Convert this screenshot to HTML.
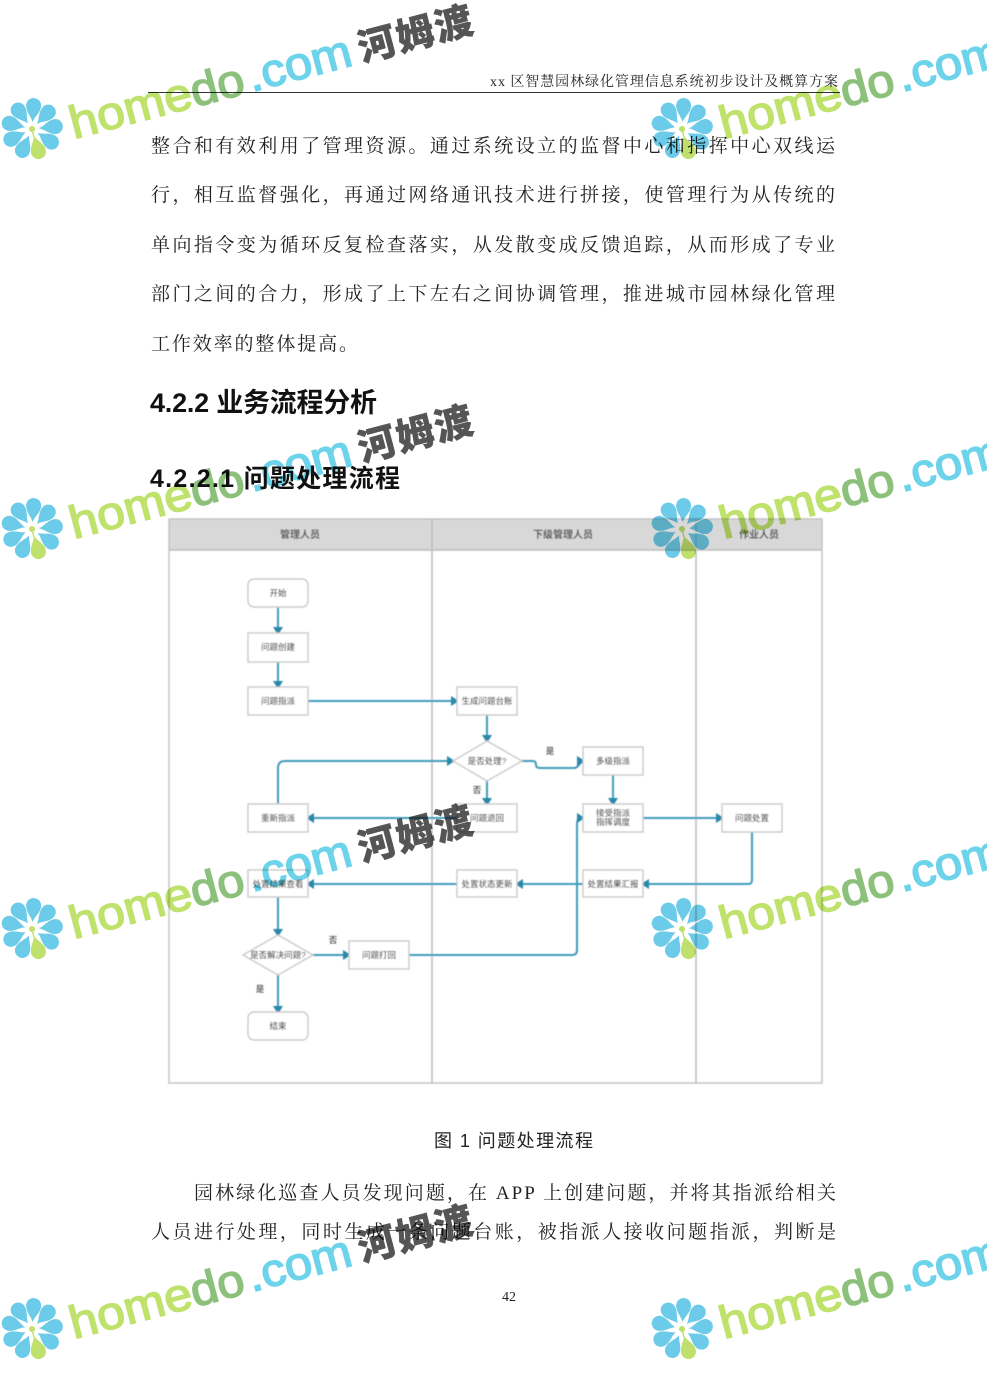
<!DOCTYPE html>
<html lang="zh"><head><meta charset="utf-8"><title>4.2.2 业务流程分析</title>
<style>
html,body{margin:0;padding:0;background:#fff;width:987px;height:1398px;overflow:hidden}
svg{display:block}
.b{font-family:"Liberation Serif","Noto Serif CJK SC",serif;font-size:19px;fill:#222}
.h{font-family:"Liberation Sans","Noto Sans CJK SC",sans-serif;font-weight:700;fill:#111}
.n rect,.n path{fill:#fff;stroke:#c9c9c9;stroke-width:1.4}
.l text{font-family:"Liberation Sans","Noto Sans CJK SC",sans-serif;font-size:8.5px;font-weight:500;fill:#4a4a4a;text-anchor:middle}
.c path{fill:none;stroke:#3f9dbb;stroke-width:2}
.a path{fill:#2b88a8;stroke:none}
.w text{font-family:"Liberation Sans",sans-serif;font-size:46px;stroke-width:1.5}
.w .cn{font-family:"Noto Sans CJK SC",sans-serif;font-weight:900;font-size:38px;fill:#555;stroke:#555;stroke-width:.4}
.wm{mix-blend-mode:multiply}
</style></head><body>
<svg width="987" height="1398" viewBox="0 0 987 1398" xmlns="http://www.w3.org/2000/svg">
<defs>
<filter id="bl" x="-2%" y="-2%" width="104%" height="104%"><feGaussianBlur stdDeviation="0.5"/></filter>
<path id="pt" d="M0,-7 C-2,-13 -7.5,-17 -7.5,-23.5 A7.5,7.5 0 0 1 7.5,-23.5 C7.5,-17 2,-13 0,-7Z"/>
<g id="fl">
<g fill="#6ccbe8">
<use href="#pt" transform="rotate(204)"/><use href="#pt" transform="rotate(244)"/><use href="#pt" transform="rotate(284)"/><use href="#pt" transform="rotate(324)"/><use href="#pt" transform="rotate(4)"/><use href="#pt" transform="rotate(44)"/><use href="#pt" transform="rotate(84)"/><use href="#pt" transform="rotate(124)"/>
</g>
<use href="#pt" fill="#bfe06c" transform="rotate(164)"/>
<circle r="3" fill="#bfe06c"/><path d="M0,0L2,8" stroke="#bfe06c" stroke-width="1.5"/>
</g>
</defs>
<rect width="987" height="1398" fill="#fff"/>

<!-- page header -->
<text x="490" y="86" class="b" style="font-size:14px" textLength="348" lengthAdjust="spacing">xx 区智慧园林绿化管理信息系统初步设计及概算方案</text>
<rect x="148" y="92" width="692" height="1" fill="#333"/>

<!-- body text -->
<text x="151" y="152" class="b" textLength="684">整合和有效利用了管理资源。通过系统设立的监督中心和指挥中心双线运</text>
<text x="151" y="201" class="b" textLength="684">行，相互监督强化，再通过网络通讯技术进行拼接，使管理行为从传统的</text>
<text x="151" y="251" class="b" textLength="684">单向指令变为循环反复检查落实，从发散变成反馈追踪，从而形成了专业</text>
<text x="151" y="300" class="b" textLength="684">部门之间的合力，形成了上下左右之间协调管理，推进城市园林绿化管理</text>
<text x="151" y="350" class="b" textLength="207">工作效率的整体提高。</text>

<text x="150" y="412" class="h" style="font-size:27px" textLength="227">4.2.2 业务流程分析</text>
<text x="150" y="487" class="h" style="font-size:25px" textLength="250">4.2.2.1 问题处理流程</text>

<!-- diagram -->
<g filter="url(#bl)">
<rect x="169" y="519" width="653" height="31" fill="#d8d8d8"/>
<rect x="169" y="519" width="653" height="564" fill="none" stroke="#c4c4c4" stroke-width="1.5"/>
<path d="M169,550H822" stroke="#bdbdbd" stroke-width="1.5"/>
<path d="M432,519V1083M696,519V1083" stroke="#bcbcbc" stroke-width="1.5"/>
<g class="h" style="font-size:10px;font-weight:700" text-anchor="middle">
<text x="300" y="538" style="fill:#555">管理人员</text>
<text x="563" y="538" style="fill:#555">下级管理人员</text>
<text x="759" y="538" style="fill:#555">作业人员</text>
</g>
<g class="c">
<path d="M278,607V630"/><path d="M278,662V684"/><path d="M308,701H454"/><path d="M487,715V738"/>
<path d="M278,804V768Q278,761 285,761H450"/>
<path d="M522,761H533Q536,761 536,765Q536,768 540,768H574Q578,768 580,762"/>
<path d="M613,775V801"/><path d="M487,781V801"/><path d="M457,818H311"/><path d="M643,818H719"/>
<path d="M752,832V880Q752,884 748,884H646"/><path d="M583,884H520"/><path d="M457,884H311"/>
<path d="M278,897V932"/><path d="M313,955H346"/><path d="M278,975V1009"/>
<path d="M409,955H572Q577,955 577,950V825Q577,818 580,818"/>
</g>
<g class="a">
<path d="M273,627H283L278,635Z"/><path d="M273,681H283L278,689Z"/><path d="M451,696V706L459,701Z"/><path d="M482,735H492L487,743Z"/>
<path d="M447,756V766L455,761Z"/><path d="M577,756L577,767L585,761Z"/>
<path d="M608,798H618L613,806Z"/><path d="M482,798H492L487,806Z"/><path d="M314,813V823L306,818Z"/><path d="M716,813V823L724,818Z"/>
<path d="M649,879V889L641,884Z"/><path d="M523,879V889L515,884Z"/><path d="M314,879V889L306,884Z"/>
<path d="M273,929H283L278,937Z"/><path d="M343,950V960L351,955Z"/><path d="M273,1006H283L278,1014Z"/><path d="M577,813V823L585,818Z"/>
</g>
<g class="n">
<rect x="248" y="579" width="60" height="28" rx="6"/>
<rect x="248" y="633" width="60" height="29"/>
<rect x="248" y="687" width="60" height="28"/>
<rect x="457" y="687" width="60" height="28"/>
<path d="M487,741L522,761L487,781L453,761Z"/>
<rect x="583" y="747" width="60" height="28"/>
<rect x="248" y="804" width="60" height="28"/>
<rect x="457" y="804" width="60" height="28"/>
<rect x="583" y="804" width="60" height="28"/>
<rect x="722" y="804" width="60" height="28"/>
<rect x="248" y="870" width="60" height="27"/>
<rect x="457" y="870" width="60" height="27"/>
<rect x="583" y="870" width="60" height="27"/>
<path d="M278,935L313,955L278,975L243,955Z"/>
<rect x="349" y="941" width="60" height="28"/>
<rect x="248" y="1012" width="60" height="28" rx="6"/>
</g>
<g class="l">
<text x="278" y="596">开始</text>
<text x="278" y="650">问题创建</text>
<text x="278" y="704">问题指派</text>
<text x="487" y="704">生成问题台账</text>
<text x="487" y="764">是否处理?</text>
<text x="613" y="764">多级指派</text>
<text x="278" y="821">重新指派</text>
<text x="487" y="821">问题退回</text>
<text x="613" y="816">接受指派</text>
<text x="613" y="825">指挥调度</text>
<text x="752" y="821">问题处置</text>
<text x="278" y="887">处置结果查看</text>
<text x="487" y="887">处置状态更新</text>
<text x="613" y="887">处置结果汇报</text>
<text x="278" y="958">是否解决问题?</text>
<text x="379" y="958">问题打回</text>
<text x="278" y="1029">结束</text>
<text x="550" y="754">是</text>
<text x="477" y="793">否</text>
<text x="333" y="943">否</text>
<text x="260" y="992">是</text>
</g>
</g>

<!-- caption and closing text -->
<text x="434" y="1147" class="h" style="font-size:18px;font-weight:400;fill:#222" textLength="159">图 1 问题处理流程</text>
<text x="194" y="1199" class="b" textLength="642">园林绿化巡查人员发现问题，在 APP 上创建问题，并将其指派给相关</text>
<text x="151" y="1238" class="b" textLength="685">人员进行处理，同时生成一条问题台账，被指派人接收问题指派，判断是</text>
<text x="509" y="1301" class="b" style="font-size:14px" text-anchor="middle">42</text>

<!-- watermarks -->
<g class="wm">
<g class="w" transform="translate(0,0)">
<use href="#fl" x="32" y="129"/>
<g transform="translate(74,139) rotate(-14.8)"><text textLength="125" lengthAdjust="spacingAndGlyphs" fill="#bfe26c" stroke="#bfe26c">home</text><text x="125" textLength="54" lengthAdjust="spacingAndGlyphs" fill="#8cc17c" stroke="#8cc17c">do</text><text x="184" textLength="106" lengthAdjust="spacingAndGlyphs" fill="#6cd3ea" stroke="#6cd3ea">.com</text></g>
<text class="cn" transform="translate(362,62) rotate(-14.8)" textLength="117">河姆渡</text>
</g>
<g class="w" transform="translate(650,0)">
<use href="#fl" x="32" y="129"/>
<g transform="translate(74,139) rotate(-14.8)"><text textLength="125" lengthAdjust="spacingAndGlyphs" fill="#bfe26c" stroke="#bfe26c">home</text><text x="125" textLength="54" lengthAdjust="spacingAndGlyphs" fill="#8cc17c" stroke="#8cc17c">do</text><text x="184" textLength="106" lengthAdjust="spacingAndGlyphs" fill="#6cd3ea" stroke="#6cd3ea">.com</text></g>
</g>
<g class="w" transform="translate(0,400)">
<use href="#fl" x="32" y="129"/>
<g transform="translate(74,139) rotate(-14.8)"><text textLength="125" lengthAdjust="spacingAndGlyphs" fill="#bfe26c" stroke="#bfe26c">home</text><text x="125" textLength="54" lengthAdjust="spacingAndGlyphs" fill="#8cc17c" stroke="#8cc17c">do</text><text x="184" textLength="106" lengthAdjust="spacingAndGlyphs" fill="#6cd3ea" stroke="#6cd3ea">.com</text></g>
<text class="cn" transform="translate(362,62) rotate(-14.8)" textLength="117">河姆渡</text>
</g>
<g class="w" transform="translate(650,400)">
<use href="#fl" x="32" y="129"/>
<g transform="translate(74,139) rotate(-14.8)"><text textLength="125" lengthAdjust="spacingAndGlyphs" fill="#bfe26c" stroke="#bfe26c">home</text><text x="125" textLength="54" lengthAdjust="spacingAndGlyphs" fill="#8cc17c" stroke="#8cc17c">do</text><text x="184" textLength="106" lengthAdjust="spacingAndGlyphs" fill="#6cd3ea" stroke="#6cd3ea">.com</text></g>
</g>
<g class="w" transform="translate(0,800)">
<use href="#fl" x="32" y="129"/>
<g transform="translate(74,139) rotate(-14.8)"><text textLength="125" lengthAdjust="spacingAndGlyphs" fill="#bfe26c" stroke="#bfe26c">home</text><text x="125" textLength="54" lengthAdjust="spacingAndGlyphs" fill="#8cc17c" stroke="#8cc17c">do</text><text x="184" textLength="106" lengthAdjust="spacingAndGlyphs" fill="#6cd3ea" stroke="#6cd3ea">.com</text></g>
<text class="cn" transform="translate(362,62) rotate(-14.8)" textLength="117">河姆渡</text>
</g>
<g class="w" transform="translate(650,800)">
<use href="#fl" x="32" y="129"/>
<g transform="translate(74,139) rotate(-14.8)"><text textLength="125" lengthAdjust="spacingAndGlyphs" fill="#bfe26c" stroke="#bfe26c">home</text><text x="125" textLength="54" lengthAdjust="spacingAndGlyphs" fill="#8cc17c" stroke="#8cc17c">do</text><text x="184" textLength="106" lengthAdjust="spacingAndGlyphs" fill="#6cd3ea" stroke="#6cd3ea">.com</text></g>
</g>
<g class="w" transform="translate(0,1200)">
<use href="#fl" x="32" y="129"/>
<g transform="translate(74,139) rotate(-14.8)"><text textLength="125" lengthAdjust="spacingAndGlyphs" fill="#bfe26c" stroke="#bfe26c">home</text><text x="125" textLength="54" lengthAdjust="spacingAndGlyphs" fill="#8cc17c" stroke="#8cc17c">do</text><text x="184" textLength="106" lengthAdjust="spacingAndGlyphs" fill="#6cd3ea" stroke="#6cd3ea">.com</text></g>
<text class="cn" transform="translate(362,62) rotate(-14.8)" textLength="117">河姆渡</text>
</g>
<g class="w" transform="translate(650,1200)">
<use href="#fl" x="32" y="129"/>
<g transform="translate(74,139) rotate(-14.8)"><text textLength="125" lengthAdjust="spacingAndGlyphs" fill="#bfe26c" stroke="#bfe26c">home</text><text x="125" textLength="54" lengthAdjust="spacingAndGlyphs" fill="#8cc17c" stroke="#8cc17c">do</text><text x="184" textLength="106" lengthAdjust="spacingAndGlyphs" fill="#6cd3ea" stroke="#6cd3ea">.com</text></g>
</g>
</g>
</svg>
</body></html>
